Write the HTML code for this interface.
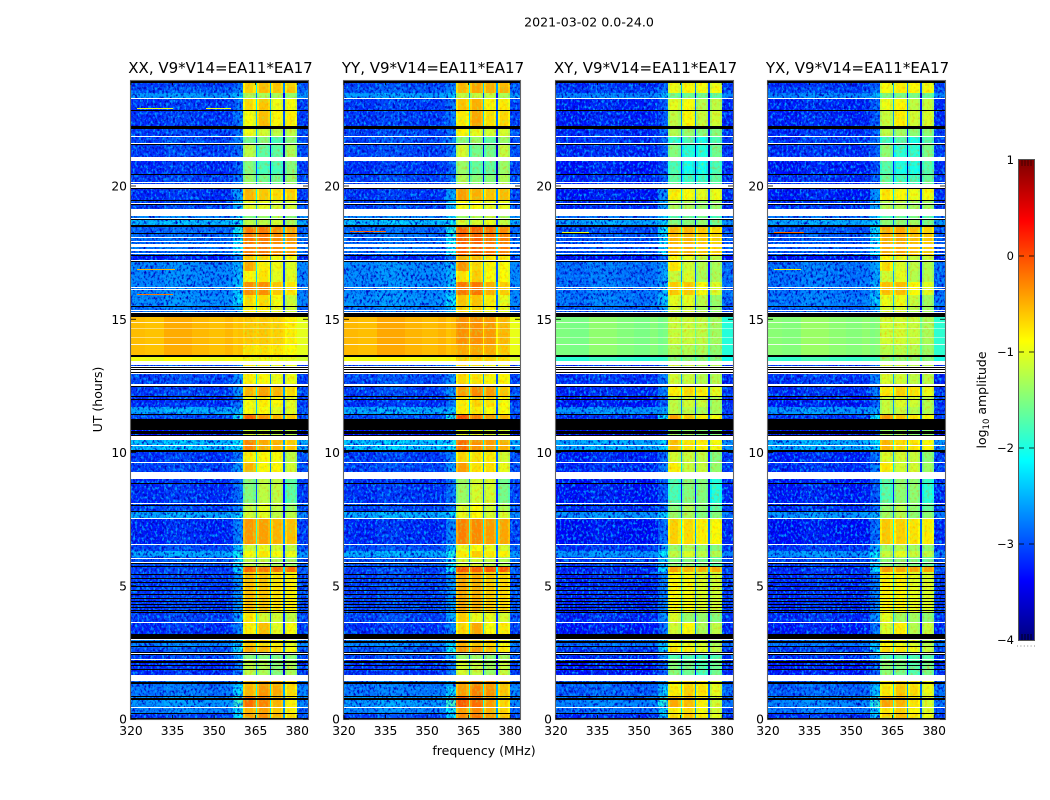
<!DOCTYPE html>
<html lang="en">
<head>
<meta charset="utf-8">
<title>2021-03-02 amplitude waterfall</title>
<style>
html,body{margin:0;padding:0;background:#fff;width:1050px;height:800px;overflow:hidden}
svg{display:block}
text{font-family:"DejaVu Sans","Liberation Sans",sans-serif;fill:#000}
.tick{font-size:12.3px}
.ptitle{font-size:15px}
.alab{font-size:12.5px}
</style>
</head>
<body>
<svg id="fig" xmlns="http://www.w3.org/2000/svg" width="1050" height="800" viewBox="0 0 1050 800">
  <defs>
    <filter id="speckle" x="0" y="0" width="100%" height="100%" color-interpolation-filters="sRGB">
      <feTurbulence type="fractalNoise" baseFrequency="0.45 0.32" numOctaves="2" seed="7" result="n"/>
      <feColorMatrix in="n" type="matrix" values="0 0 0 0 0  0 0 0 0 0.02  0 0 0 0 0.75  3.6 0 0 0 -1.65" result="dark"/>
      <feColorMatrix in="n" type="matrix" values="0 0 0 0 0  0 0 0 0 0.62  0 0 0 0 1  0 3.6 0 0 -1.75" result="light"/>
      <feMerge result="m"><feMergeNode in="dark"/><feMergeNode in="light"/></feMerge>
      <feComposite in="m" in2="SourceAlpha" operator="in"/>
    </filter>
    <filter id="speckle-warm" x="0" y="0" width="100%" height="100%" color-interpolation-filters="sRGB">
      <feTurbulence type="fractalNoise" baseFrequency="0.4 0.3" numOctaves="2" seed="11" result="n"/>
      <feColorMatrix in="n" type="matrix" values="0 0 0 0 1  0 0 0 0 0.55  0 0 0 0 0  2.4 0 0 0 -1.2" result="warm"/>
      <feColorMatrix in="n" type="matrix" values="0 0 0 0 0.55  0 0 0 0 1  0 0 0 0 0.35  0 2.4 0 0 -1.2" result="cool"/>
      <feMerge result="m"><feMergeNode in="warm"/><feMergeNode in="cool"/></feMerge>
      <feComposite in="m" in2="SourceAlpha" operator="in"/>
    </filter>
  </defs>
  <text x="589" y="26.5" text-anchor="middle" font-size="12.6">2021-03-02 0.0-24.0</text>
  <g id="panels"></g>
  <text class="alab" x="0" y="0" text-anchor="middle" transform="translate(102 399.5) rotate(-90)">UT (hours)</text>
  <text class="alab" x="484" y="755" text-anchor="middle">frequency (MHz)</text>
  <g id="cbar"></g>
  <text class="alab" x="0" y="0" text-anchor="middle" transform="translate(986 400) rotate(-90)">log<tspan font-size="8.5" dy="3">10</tspan><tspan dy="-3"> amplitude</tspan></text>
</svg>
<script>
/* ---------- chart data ---------- */
const panelNames = ['XX', 'YY', 'XY', 'YX'];
const panelBaseline = 'V9*V14=EA11*EA17';
const xTicks = [320, 335, 350, 365, 380];
const yTicks = [0, 5, 10, 15, 20];
const colorbarTicks = [1, 0, -1, -2, -3, -4];

/* per-polarisation level shifts, log10 amplitude */
const panelLowShift = [-0.3, -0.27, -0.42, -0.4];
const panelBlockShift = [0, 0.12, -0.3, -0.25];
const panelBrightLowShift = [0, 0.02, -0.95, -0.9];
const panelBrightBlockShift = [0, 0.28, -0.55, -0.5];

/* time bands, hours UT (bottom to top) */
const bandEdges = [0,0.23,0.45,0.83,1.24,1.43,2.25,2.51,2.70,3.19,3.64,3.98,5.52,5.70,6.08,6.30,6.53,7.50,7.77,8.11,9.27,9.64,10.09,10.62,11.18,11.41,11.71,12.08,12.50,13.43,13.58,14.03,15.08,15.46,15.91,16.40,16.81,17.19,17.37,18.20,18.50,18.72,19.14,19.49,19.89,20.45,20.94,21.58,21.88,22.25,22.85,23.30,23.49,23.71,23.94];
const bandLow = [-2.8,-2.4,-2.3,-2.5,-2.5,-2.9,-2.8,-2.7,-2.4,-2.9,-2.8,-2.8,-2.8,-2.7,-2.2,-2.75,-2.95,-2.2,-2.8,-2.9,-2.8,-2.85,-2.05,-3.1,-2.75,-2.2,-2.9,-2.8,-2.75,-0.95,-0.55,-0.55,-2.5,-2.35,-2.4,-2.4,-2.4,-3.0,-2.55,-2.6,-2.1,-2.4,-2.8,-2.9,-2.8,-2.9,-2.8,-2.75,-2.8,-2.85,-2.85,-2.3,-2.7,-2.8];
const bandShoulder = [-2.0,-1.9,-1.6,-2.0,-2.2,-2.6,-2.3,-1.9,-2.0,-2.5,-2.3,-2.4,-1.9,-2.0,-1.8,-2.2,-2.5,-2.0,-2.6,-2.6,-2.4,-2.5,-1.9,-2.8,-1.8,-2.2,-2.6,-2.4,-2.4,-0.95,-0.6,-0.6,-2.2,-2.0,-2.1,-2.2,-2.2,-2.6,-1.9,-1.8,-1.9,-2.0,-2.2,-2.3,-2.6,-2.7,-2.6,-2.5,-2.6,-2.6,-2.6,-2.1,-2.5,-2.6];
const bandBlockA = [-0.4,-0.5,-0.15,-0.5,-0.55,-1.2,-1.5,-0.45,-0.6,-0.8,-0.75,-0.55,-0.1,-1.2,-0.9,-1.1,-0.35,-1.1,-1.2,-1.5,-0.5,-0.8,-0.25,-1.1,-0.1,-0.9,-0.9,-0.5,-0.8,-0.95,-0.72,-0.6,-0.8,-0.7,-0.3,-0.85,-0.45,-0.6,-0.2,-0.2,-1.2,-1.5,-1.0,-0.5,-1.4,-1.5,-1.2,-1.6,-0.95,-0.9,-0.7,-1.3,-0.65,-0.65];
const bandBlockB = [-0.3,-0.4,-0.25,-0.35,-0.4,-1.3,-1.5,-0.5,-0.7,-0.55,-1.1,-0.6,-0.2,-1.2,-0.75,-1.0,-0.4,-1.0,-1.0,-1.2,-0.85,-0.85,-0.45,-1.1,-0.35,-0.9,-0.8,-0.4,-0.85,-0.95,-0.72,-0.6,-0.8,-0.7,-0.3,-0.75,-0.8,-0.7,-0.2,-0.2,-1.2,-1.4,-1.0,-0.6,-1.6,-1.8,-1.7,-1.5,-1.1,-0.55,-0.6,-1.3,-0.55,-0.55];
const bandBlockC = [-0.5,-0.6,-0.5,-0.45,-0.5,-1.5,-1.6,-0.7,-0.8,-1.0,-1.1,-0.75,-0.15,-1.3,-0.9,-1.1,-0.5,-1.2,-1.2,-1.2,-0.85,-0.9,-0.5,-1.2,-0.5,-1.0,-0.85,-0.5,-0.95,-0.95,-0.75,-0.65,-1.0,-0.9,-0.6,-1.0,-0.95,-0.9,-0.3,-0.3,-1.1,-1.3,-1.1,-0.7,-1.6,-1.8,-1.7,-1.8,-1.2,-0.85,-0.95,-1.3,-0.6,-0.6];
const bandBlockD = [-0.7,-0.8,-0.8,-0.7,-0.7,-1.3,-1.5,-0.9,-1.0,-0.9,-1.2,-0.8,-0.15,-1.4,-0.95,-1.2,-0.55,-1.2,-1.4,-1.7,-1.1,-1.2,-0.6,-1.2,-0.6,-1.0,-1.0,-0.7,-0.95,-1.0,-0.88,-0.8,-1.1,-1.1,-0.75,-1.0,-1.0,-0.9,-0.35,-0.4,-1.3,-1.5,-1.1,-0.65,-1.4,-1.5,-1.3,-1.5,-1.2,-0.8,-0.9,-1.4,-0.6,-0.65];
const bandTail = [-2.7,-2.6,-2.4,-2.4,-2.5,-2.8,-2.7,-2.6,-2.4,-2.8,-2.7,-2.7,-2.6,-2.6,-2.3,-2.7,-2.8,-2.4,-2.7,-2.8,-2.7,-2.7,-2.2,-3.0,-2.7,-2.7,-2.8,-2.7,-2.8,-1.1,-1.0,-1.0,-2.6,-2.4,-2.4,-2.4,-2.4,-2.9,-2.5,-2.6,-2.2,-2.4,-2.7,-2.8,-2.7,-2.8,-2.7,-2.7,-2.7,-2.8,-2.8,-2.3,-2.6,-2.7];
const brightBands = [29, 30, 31];

/* frequency channels, MHz, with source level and gain */
const channelEdges = [320,325,332,342,348,354,357,358.8,360.4,361.2,364.2,365,365.5,366.3,369.3,370,370.5,371.3,374.3,375,375.5,376.3,379.2,380,384];
const channelSource = ['low','low','low','low','low','low','sh','sh','A','A','A','A','B','B','B','B','C','C','C','C','D','D','D','T'];
const channelGain = [0,-0.03,0.08,0.02,-0.02,0.03,0,0.12,-0.2,0,-0.12,-1.5,-0.2,0,-0.12,-1.9,-0.2,0,-0.12,-2.1,-0.2,0,-0.15,0];

/* flagged time ranges, hours */
const whiteStart = [0.43,1.43,2.22,2.44,2.95,3.60,5.85,6.00,6.53,7.50,8.07,9.01,9.62,10.25,10.47,12.50,12.93,13.03,13.12,13.22,13.28,15.23,15.31,16.12,16.18,17.19,17.46,17.56,17.71,17.90,18.05,18.76,18.87,19.32,19.93,20.10,20.95,21.58,21.84,23.26];
const whiteEnd = [0.46,1.65,2.26,2.48,2.99,3.64,5.90,6.06,6.57,7.54,8.11,9.27,9.66,10.29,10.62,12.57,13.00,13.08,13.17,13.25,13.43,15.27,15.35,16.15,16.22,17.22,17.50,17.64,17.82,17.94,18.09,18.80,19.14,19.36,20.06,20.16,21.10,21.61,21.88,23.30];
const blackStart = [0,0.19,0.71,0.83,1.33,1.84,1.99,2.10,2.40,2.48,2.70,2.85,2.99,3.98,4.05,4.17,4.28,4.39,4.50,4.65,4.80,4.95,5.10,5.25,5.40,5.70,5.82,7.77,8.00,8.82,10.02,10.62,10.70,10.84,11.18,11.41,11.97,12.08,12.46,13.00,13.08,13.17,13.60,15.08,15.46,17.17,17.37,18.20,18.46,18.72,19.29,19.46,19.89,20.41,21.53,22.14,22.81,23.86];
const blackEnd = [0.04,0.23,0.79,0.87,1.37,1.88,2.03,2.18,2.44,2.51,2.73,2.93,3.19,4.03,4.10,4.21,4.32,4.43,4.54,4.69,4.84,4.99,5.14,5.29,5.44,5.73,5.85,7.80,8.04,8.86,10.09,10.66,10.81,11.18,11.26,11.45,12.01,12.12,12.50,13.03,13.12,13.21,13.64,15.23,15.50,17.20,17.41,18.24,18.54,18.76,19.32,19.49,19.93,20.45,21.58,22.25,22.85,23.94];

/* thin pale rows through the bright band */
const paleHour = [14.03, 14.30, 14.63, 14.86];
const paleOpacity = [0.85, 0.45, 0.45, 0.8];

/* bright narrow-band streaks in the low band */
const streakPanel = [0,0,0,0,1,2,3,3];
const streakHour = [22.9,22.9,16.83,15.9,18.27,18.25,18.25,16.85];
const streakFrom = [322,347,322,322,322,322,322,322];
const streakTo = [335,356,336,335,335,332,333,332];
const streakValue = [-1.0,-1.0,-0.5,-0.2,-0.1,-1.0,-0.1,-0.8];

/* ---------- axis functions ---------- */
const panelLeft = [131, 344, 556, 768];
const frameRight = [308, 520, 733, 945];
const plotTop = 81, plotBottom = 719;
const pxPerMHz = 2.77, pxPerHour = 26.65;
function xScale(p, f) { return Math.min(panelLeft[p] + (f - 320) * pxPerMHz, frameRight[p]); }
function yScale(h) { return Math.max(plotBottom - h * pxPerHour, plotTop); }
function cbScale(v) { return 640 - (v + 4) * 96; }

function jet(v) {
  const t = Math.max(0, Math.min(1, (v + 4) / 5));
  const c = function (x) { return Math.round(255 * Math.max(0, Math.min(1, x))); };
  const r = c(Math.min(4 * t - 1.5, -4 * t + 4.5));
  const g = c(Math.min(4 * t - 0.5, -4 * t + 3.5));
  const b = c(Math.min(4 * t + 0.5, -4 * t + 2.5));
  return 'rgb(' + r + ',' + g + ',' + b + ')';
}

const NS = 'http://www.w3.org/2000/svg';
function mk(tag, attrs, parent) {
  const e = document.createElementNS(NS, tag);
  for (const k in attrs) e.setAttribute(k, attrs[k]);
  parent.appendChild(e);
  return e;
}
function rectBetween(parent, x0, x1, h0, h1, fill) {
  const yTop = Math.round(yScale(h1));
  const yBot = Math.round(yScale(h0));
  const x = Math.round(x0);
  return mk('rect', {
    x: x, y: yTop,
    width: Math.max(1, Math.round(x1) - x),
    height: Math.max(1, yBot - yTop),
    fill: fill, 'shape-rendering': 'crispEdges'
  }, parent);
}
function bandLevel(source, b) {
  if (source === 'low') return bandLow[b];
  if (source === 'sh') return bandShoulder[b];
  if (source === 'A') return bandBlockA[b];
  if (source === 'B') return bandBlockB[b];
  if (source === 'C') return bandBlockC[b];
  if (source === 'D') return bandBlockD[b];
  return bandTail[b];
}

const panelsRoot = document.getElementById('panels');

panelNames.forEach(function (name, p) {
  const g = mk('g', {}, panelsRoot);
  
  

  /* heatmap cells */
  for (let b = 0; b < bandLow.length; b++) {
    const bright = brightBands.indexOf(b) >= 0;
    for (let c = 0; c < channelSource.length; c++) {
      const src = channelSource[c];
      const isLow = src === 'low' || src === 'sh' || src === 'T';
      let shift;
      if (bright) shift = isLow ? panelBrightLowShift[p] : panelBrightBlockShift[p];
      else shift = isLow ? panelLowShift[p] : panelBlockShift[p];
      let gain = channelGain[c];
      if (bright) {
        if (gain < -1) gain = p === 0 ? -0.06 : -0.45;
        else if (src !== 'low') gain = gain * 0.3;
      }
      const v = bandLevel(src, b) + shift + gain;
      const cell = rectBetween(g, xScale(p, channelEdges[c]), xScale(p, channelEdges[c + 1]), bandEdges[b], bandEdges[b + 1], jet(v));
      
      
    }
  }

  /* speckle texture on the quiet channels */
  const sp = mk('g', { filter: 'url(#speckle)' }, g);
  
  
  for (let b = 0; b < bandLow.length; b++) {
    if (brightBands.indexOf(b) >= 0) continue;
    rectBetween(sp, xScale(p, 320), xScale(p, 360.4), bandEdges[b], bandEdges[b + 1], '#000');
    rectBetween(sp, xScale(p, 380), xScale(p, 384), bandEdges[b], bandEdges[b + 1], '#000');
  }

  /* lighter mottling on the signal blocks */
  const blockStart = [360.4, 365.5, 370.5, 375.5];
  const blockEnd = [365, 370, 375, 380];
  const spw = mk('g', { filter: 'url(#speckle-warm)', opacity: '0.55' }, g);
  
  
  blockStart.forEach(function (f, i) {
    rectBetween(spw, xScale(p, f), xScale(p, blockEnd[i]), 0, 23.94, '#000');
  });

  /* pale rows through the bright band */
  paleHour.forEach(function (h, i) {
    const pr = rectBetween(g, xScale(p, 320), xScale(p, 384), h, h + 0.04, '#fff');
    pr.setAttribute('opacity', paleOpacity[i]);
    
    
  });

  /* streaks */
  streakPanel.forEach(function (sPanel, s) {
    if (sPanel !== p) return;
    const st = rectBetween(g, xScale(p, streakFrom[s]), xScale(p, streakTo[s]), streakHour[s], streakHour[s] + 0.04, jet(streakValue[s]));
    
    
  });

  /* flagged rows */
  whiteStart.forEach(function (h, i) {
    const w = rectBetween(g, xScale(p, 320), xScale(p, 384), h, whiteEnd[i], '#fff');
    
    
  });
  blackStart.forEach(function (h, i) {
    const k = rectBetween(g, xScale(p, 320), xScale(p, 384), h, blackEnd[i], '#000');
    
    
  });

  /* frame */
  const L = panelLeft[p], R = frameRight[p];
  const frame = mk('rect', { x: L - 0.5, y: plotTop - 0.5, width: R - L + 1, height: plotBottom - plotTop + 1, fill: 'none', stroke: '#666', 'stroke-width': 1.1 }, g);
  
  

  /* ticks */
  xTicks.forEach(function (t) {
    const x = xScale(p, t);
    mk('line', { x1: x, x2: x, y1: plotBottom, y2: plotBottom - 4, stroke: '#000', 'stroke-width': 0.8 }, g);
    mk('line', { x1: x, x2: x, y1: plotTop, y2: plotTop + 4, stroke: '#000', 'stroke-width': 0.8 }, g);
    const lb = mk('text', { x: x, y: plotBottom + 16, 'text-anchor': 'middle', 'class': 'tick' }, g);
    lb.textContent = String(t);
    
    
  });
  yTicks.forEach(function (t) {
    const y = yScale(t);
    mk('line', { x1: L, x2: L + 5, y1: y, y2: y, stroke: '#000', 'stroke-width': 0.8 }, g);
    mk('line', { x1: R, x2: R - 5, y1: y, y2: y, stroke: '#000', 'stroke-width': 0.8 }, g);
    const lb = mk('text', { x: L - 4, y: y + 4.5, 'text-anchor': 'end', 'class': 'tick' }, g);
    lb.textContent = String(t);
    
    
  });

  /* title */
  const tt = mk('text', { x: (L + R) / 2 + 1, y: 73, 'text-anchor': 'middle', 'class': 'ptitle' }, g);
  tt.textContent = name + ', ' + panelBaseline;
  
  
});

/* colorbar */
const cb = document.getElementById('cbar');
const cbSteps = 240;
for (let i = 0; i < cbSteps; i++) {
  const v0 = -4 + 5 * i / cbSteps;
  const v1 = -4 + 5 * (i + 1) / cbSteps;
  const seg = mk('rect', { x: 1019, y: cbScale(v1), width: 15, height: cbScale(v0) - cbScale(v1) + 0.5, fill: jet((v0 + v1) / 2), 'shape-rendering': 'crispEdges' }, cb);
  
  
}
const cbFrame = mk('rect', { x: 1018.5, y: 159.5, width: 16, height: 481, fill: 'none', stroke: '#555', 'stroke-width': 1 }, cb);


colorbarTicks.forEach(function (t) {
  const y = cbScale(t);
  if (t !== 1 && t !== -4) {
    mk('line', { x1: 1019, x2: 1024, y1: y, y2: y, stroke: '#000', 'stroke-width': 0.8 }, cb);
    mk('line', { x1: 1029, x2: 1034, y1: y, y2: y, stroke: '#000', 'stroke-width': 0.8 }, cb);
  }
  const lb = mk('text', { x: 1014, y: y + 4, 'text-anchor': 'end', 'font-size': '11.5' }, cb);
  lb.textContent = (t < 0 ? '\u2212' + (-t) : String(t));
  
  
});
[1022, 1025, 1028, 1031].forEach(function (x) {
  mk('line', { x1: x, x2: x, y1: 160, y2: 166, stroke: '#300', 'stroke-width': 0.8 }, cb);
  mk('line', { x1: x, x2: x, y1: 634, y2: 640, stroke: '#000', 'stroke-width': 0.8 }, cb);
});
mk('line', { x1: 1017, x2: 1036, y1: 646, y2: 646, stroke: '#888', 'stroke-width': 1, 'stroke-dasharray': '1 2.4' }, cb);
</script>
</body>
</html>
